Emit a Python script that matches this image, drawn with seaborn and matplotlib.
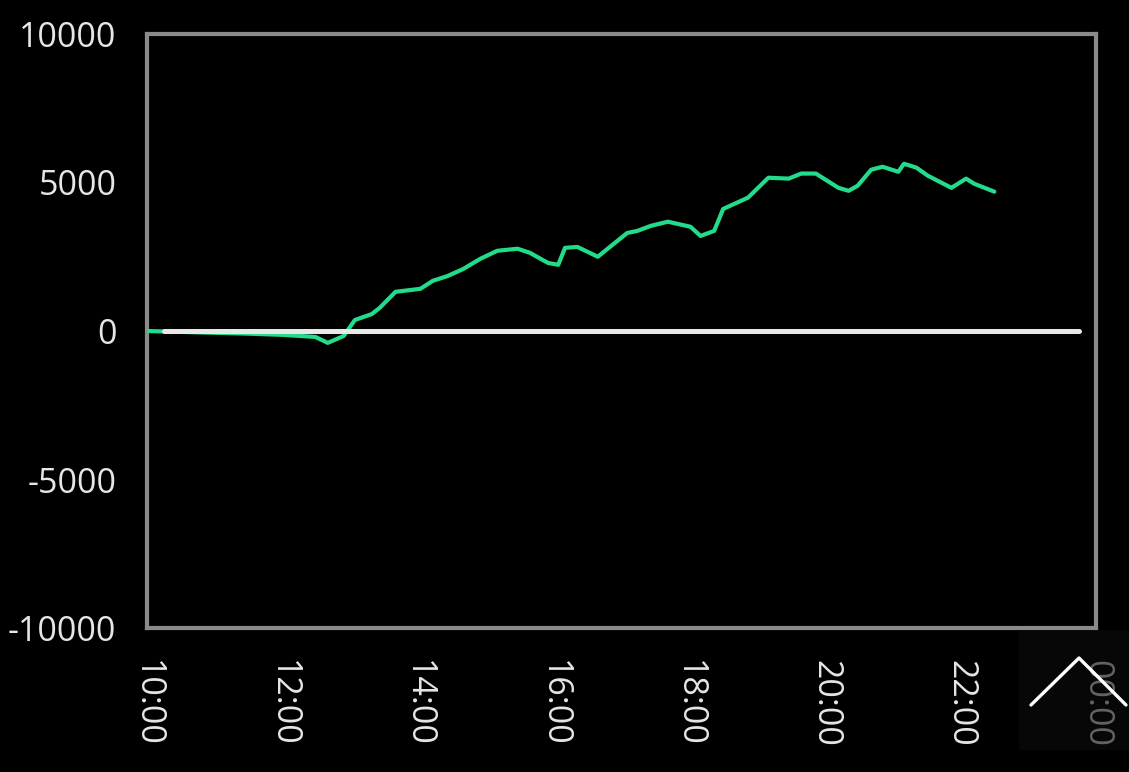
import pandas as pd
import numpy as np
import seaborn as sns
import matplotlib.pyplot as plt
from matplotlib.lines import Line2D
from matplotlib.patches import Rectangle

# equity curve, time as "HH:MM", value
times = ["10:00", "10:30", "11:00", "11:30", "12:00", "12:29", "12:40", "12:54",
         "13:04", "13:19", "13:26", "13:40", "14:02", "14:13", "14:26", "14:40",
         "14:55", "15:10", "15:28", "15:39", "15:55", "16:04", "16:10", "16:21",
         "16:39", "17:05", "17:14", "17:26", "17:41", "18:01", "18:10", "18:22",
         "18:30", "18:52", "19:10", "19:28", "19:39", "19:52", "20:12", "20:21",
         "20:29", "20:41", "20:51", "21:05", "21:10", "21:21", "21:31", "21:52",
         "22:05", "22:12", "22:30"]
values = [0, -30, -60, -90, -130, -200, -400, -170,
          370, 570, 780, 1320, 1420, 1690, 1850, 2090,
          2430, 2700, 2770, 2630, 2290, 2230, 2800, 2830,
          2500, 3300, 3370, 3540, 3680, 3510, 3200, 3370,
          4110, 4490, 5160, 5130, 5300, 5300, 4820, 4720,
          4890, 5430, 5530, 5360, 5630, 5500, 5230, 4820,
          5130, 4960, 4690]

baseline_times = ["10:15", "23:45"]
baseline_values = [0, 0]

x_ticks = [10, 12, 14, 16, 18, 20, 22, 24]
x_labels = ["10:00", "12:00", "14:00", "16:00", "18:00", "20:00", "22:00", "00:00"]
y_ticks = [-10000, -5000, 0, 5000, 10000]


def to_hours(t):
    h, m = t.split(":")
    return int(h) + int(m) / 60


df = pd.DataFrame({"hour": [to_hours(t) for t in times], "value": values})
base = pd.DataFrame({"hour": [to_hours(t) for t in baseline_times], "value": baseline_values})

sns.set_style("dark")
plt.rcParams["font.family"] = ["Open Sans", "DejaVu Sans"]

fig = plt.figure(figsize=(11.29, 7.72), dpi=100, facecolor="black")
ax = fig.add_axes([0.1302, 0.1865, 0.8406, 0.7695])
ax.set_facecolor("black")

sns.lineplot(data=df, x="hour", y="value", ax=ax, color="#22dc8c", linewidth=3.0, zorder=3)
sns.lineplot(data=base, x="hour", y="value", ax=ax, color="#e8e8e8", linewidth=3.6, zorder=4)

ax.set_xlim(10, 24)
ax.set_ylim(-10000, 10000)
ax.set_xticks(x_ticks)
ax.set_xticklabels(x_labels, rotation=-90)
ax.set_yticks(y_ticks)
ax.set_yticklabels([str(v) for v in y_ticks])
ax.set_xlabel("")
ax.set_ylabel("")
ax.grid(False)

for s in ax.spines.values():
    s.set_visible(True)
    s.set_color("#8a8a8a")
    s.set_linewidth(3.0)

ax.tick_params(axis="both", colors="#8a8a8a", length=8, width=1.8, direction="out",
               labelsize=24.5, labelcolor="#e6e6e6")
ax.tick_params(axis="y", pad=14)
ax.tick_params(axis="x", pad=15)

# scroll-to-top button overlay in the corner
fig.add_artist(Rectangle((1019 / 1129, 1 - 750 / 772), 110 / 1129, 120 / 772,
                         transform=fig.transFigure, facecolor="#0c0c0c", alpha=0.6,
                         edgecolor="none", zorder=10))
fig.add_artist(Line2D([1031 / 1129, 1079 / 1129, 1126 / 1129],
                      [1 - 705 / 772, 1 - 658 / 772, 1 - 705 / 772],
                      transform=fig.transFigure, color="white", linewidth=2.4, zorder=11))

plt.savefig("out.png", dpi=100, facecolor="black")
